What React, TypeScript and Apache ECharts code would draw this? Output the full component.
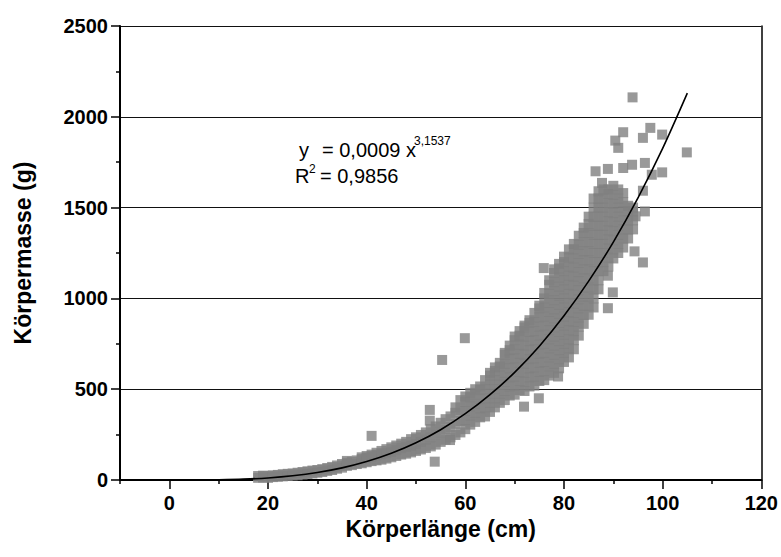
import React, { useEffect, useRef } from "react";
import * as echarts from "echarts";

const FONT = "'Liberation Sans', Arial, Helvetica, sans-serif";

const xTickLabels = [0, 20, 40, 60, 80, 100, 120];
const xMinorTicks = [-10, 10, 30, 50, 70, 90, 110];

// Körperlänge (cm) -> Körpermasse (g), small fish (tight band)
const smallFish: [number, number[]][] = [
  [18, [12, 22]], [19, [14, 24]], [20, [12, 22]], [21, [16, 26]], [22, [18, 28]],
  [23, [20, 32]], [24, [22, 34]], [25, [25, 36]], [26, [26, 40]], [27, [30, 44]],
  [28, [33, 48]], [29, [36, 52]], [30, [40, 55]], [31, [44, 60]], [32, [50, 66]],
  [33, [55, 72]], [34, [62, 80]], [35, [68, 88]], [36, [78, 95, 105]], [37, [82, 100]],
  [38, [88, 108]], [39, [92, 115, 125]], [40, [98, 120, 132]], [41, [104, 128, 140]],
  [42, [108, 135, 150]], [43, [112, 142, 160]], [44, [118, 148, 170]], [45, [125, 155, 180]],
  [46, [132, 165, 190]], [47, [140, 175, 200]], [48, [145, 182, 210]], [49, [152, 190, 225]],
  [50, [160, 198, 235]], [51, [168, 210, 248]], [52, [176, 222, 262]], [53, [185, 235, 280]],
  [54, [195, 248, 295]], [55, [210, 262, 315]], [56, [222, 278, 335]], [57, [235, 292, 350]],
  [58, [248, 310, 370, 400]], [59, [262, 325, 385, 440]],
];

// dense cloud of larger fish
const largeFish: [number, number[]][] = [
  [60, [280, 330, 380, 430, 460]],
  [61, [305, 355, 405, 455, 480]],
  [62, [320, 370, 420, 470, 500]],
  [63, [345, 395, 445, 495, 515]],
  [64, [350, 400, 450, 500, 550]],
  [65, [375, 425, 475, 525, 575, 590]],
  [66, [400, 450, 500, 550, 600, 620]],
  [67, [425, 475, 525, 575, 625, 645]],
  [68, [440, 490, 540, 590, 640, 690, 700]],
  [69, [465, 515, 565, 615, 665, 715, 740]],
  [70, [470, 520, 570, 620, 670, 720, 770, 790]],
  [71, [495, 545, 595, 645, 695, 745, 795, 820]],
  [72, [490, 540, 590, 640, 690, 740, 790, 840, 850]],
  [73, [515, 565, 615, 665, 715, 765, 815, 865, 880]],
  [74, [520, 570, 620, 670, 720, 770, 820, 870, 920]],
  [75, [545, 595, 645, 695, 745, 795, 845, 895, 945, 960]],
  [76, [550, 600, 650, 700, 750, 800, 850, 900, 950, 1000, 1030]],
  [77, [575, 625, 675, 725, 775, 825, 875, 925, 975, 1025, 1075, 1100]],
  [78, [590, 640, 690, 740, 790, 840, 890, 940, 990, 1040, 1090, 1140, 1160]],
  [79, [615, 665, 715, 765, 815, 865, 915, 965, 1015, 1065, 1115, 1165, 1190]],
  [80, [650, 700, 750, 800, 850, 900, 950, 1000, 1050, 1100, 1150, 1200, 1230]],
  [81, [675, 725, 775, 825, 875, 925, 975, 1025, 1075, 1125, 1175, 1225, 1270]],
  [82, [720, 770, 820, 870, 920, 970, 1020, 1070, 1120, 1170, 1220, 1270, 1300]],
  [83, [795, 845, 895, 945, 995, 1045, 1095, 1145, 1195, 1245, 1295, 1345]],
  [84, [860, 910, 960, 1010, 1060, 1110, 1160, 1210, 1260, 1310, 1360, 1390]],
  [85, [910, 960, 1010, 1060, 1110, 1160, 1210, 1260, 1310, 1360, 1410, 1450]],
  [86, [950, 1000, 1050, 1100, 1150, 1200, 1250, 1300, 1350, 1400, 1450, 1500, 1550]],
  [87, [1050, 1100, 1150, 1200, 1250, 1300, 1350, 1400, 1450, 1500, 1550, 1590]],
  [88, [1150, 1200, 1250, 1300, 1350, 1400, 1450, 1500, 1550, 1600]],
  [89, [1175, 1225, 1275, 1325, 1375, 1425, 1475, 1525, 1575, 1600]],
  [90, [1220, 1270, 1320, 1370, 1420, 1470, 1520, 1570, 1620]],
  [91, [1250, 1300, 1350, 1400, 1450, 1500, 1550, 1600]],
  [92, [1280, 1330, 1380, 1430, 1480, 1530, 1580]],
  [93, [1330, 1380, 1430, 1480, 1510]],
  [94, [1380, 1430, 1480, 1500]],
];

// isolated points read individually
const scatteredFish: [number, number][] = [
  [41, 243], [52.8, 386], [52.8, 327], [53.8, 101], [55.3, 661], [56.9, 220], [59.9, 781],
  [71.9, 404], [74.9, 450], [78.8, 570], [75.9, 1167],
  [88.9, 946], [89.9, 1033], [88.9, 1125], [94.3, 1259], [96.0, 1198],
  [94.5, 1452], [96.4, 1479], [96.0, 1593], [87.7, 1636],
  [86.4, 1700], [88.9, 1713], [92.0, 1718], [93.8, 1736], [96.4, 1746],
  [97.8, 1681], [99.9, 1694], [104.9, 1804],
  [91.0, 1829], [90.4, 1869], [92.0, 1915], [96.0, 1884], [97.5, 1939], [99.9, 1902],
  [93.9, 2107],
];

// fitted power curve y = 0,0009 x^3,1537 as drawn
const fitCurve: [number, number][] = [
  [10, 1.3], [15, 4.6], [20, 11.4], [25, 23.1], [30, 41], [35, 66.6], [40, 101.5],
  [45, 147], [50, 205], [55, 277], [60, 365], [65, 470], [70, 593], [75, 737],
  [80, 904], [85, 1095], [90, 1310], [95, 1554], [100, 1826], [105, 2130],
];

function flatten(cols: [number, number[]][]): [number, number][] {
  const out: [number, number][] = [];
  cols.forEach(([x, ys]) => ys.forEach((y) => out.push([x, y])));
  return out;
}

export default function App() {
  const ref = useRef<HTMLDivElement>(null);
  useEffect(() => {
    document.body.style.margin = "0";
    if (!ref.current) return;
    const chart = echarts.init(ref.current, undefined, { renderer: "svg" });
    const points = [...flatten(smallFish), ...flatten(largeFish), ...scatteredFish];
    const black = "#000";
    const labelStyle = { color: black, fontSize: 20, fontWeight: "bold" as const, fontFamily: FONT };
    const nameStyle = { color: black, fontSize: 23, fontWeight: "bold" as const, fontFamily: FONT };
    chart.setOption({
      animation: false,
      backgroundColor: "#fff",
      grid: { left: 120, right: 19, top: 26, bottom: 77 },
      xAxis: [
        {
          type: "value",
          min: -10,
          max: 120,
          position: "bottom",
          axisLine: { show: true, onZero: false, lineStyle: { color: black, width: 2 } },
          axisTick: { show: true, length: 9, customValues: xTickLabels, lineStyle: { color: black, width: 1.5 } },
          axisLabel: { ...labelStyle, customValues: xTickLabels, margin: 13, formatter: (v: number) => String(v) },
          splitLine: { show: false },
          name: "Körperlänge (cm)",
          nameLocation: "middle",
          nameGap: 27,
          nameTextStyle: nameStyle,
        },
        {
          type: "value",
          min: -10,
          max: 120,
          position: "bottom",
          axisLine: { show: false, onZero: false },
          axisTick: { show: true, length: 4, customValues: xMinorTicks, lineStyle: { color: black, width: 1.5 } },
          axisLabel: { show: false },
          splitLine: { show: false },
        },
      ],
      yAxis: [
        {
          type: "value",
          min: 0,
          max: 2500,
          interval: 500,
          axisLine: { show: true, onZero: false, lineStyle: { color: black, width: 2 } },
          axisTick: { show: true, length: 9, lineStyle: { color: black, width: 1.5 } },
          minorTick: { show: true, splitNumber: 2, length: 4, lineStyle: { color: black, width: 1.5 } },
          splitLine: { show: true, lineStyle: { color: "#111", width: 1 } },
          axisLabel: { ...labelStyle, margin: 12, formatter: (v: number) => String(v) },
          name: "Körpermasse (g)",
          nameLocation: "middle",
          nameGap: 86,
          nameRotate: 90,
          nameTextStyle: nameStyle,
        },
        {
          type: "value",
          min: 0,
          max: 2500,
          position: "right",
          axisLine: { show: true, onZero: false, lineStyle: { color: black, width: 1.5 } },
          axisTick: { show: false },
          axisLabel: { show: false },
          splitLine: { show: false },
        },
      ],
      series: [
        {
          type: "scatter",
          symbol: "rect",
          symbolSize: 10,
          itemStyle: { color: "#808080" },
          data: points,
          z: 2,
        },
        {
          type: "line",
          data: fitCurve,
          smooth: 0.3,
          showSymbol: false,
          lineStyle: { color: black, width: 1.6 },
          z: 3,
        },
      ],
      graphic: [
        { type: "text", x: 299, y: 150, style: { text: "y", fontSize: 20, fontFamily: FONT, fill: black, verticalAlign: "middle" } },
        { type: "text", x: 322, y: 150, style: { text: "= 0,0009 x", fontSize: 20, fontFamily: FONT, fill: black, verticalAlign: "middle" } },
        { type: "text", x: 414, y: 141, style: { text: "3,1537", fontSize: 12, fontFamily: FONT, fill: black, verticalAlign: "middle" } },
        { type: "text", x: 295, y: 176, style: { text: "R", fontSize: 20, fontFamily: FONT, fill: black, verticalAlign: "middle" } },
        { type: "text", x: 309, y: 169, style: { text: "2", fontSize: 12, fontFamily: FONT, fill: black, verticalAlign: "middle" } },
        { type: "text", x: 320, y: 176, style: { text: "= 0,9856", fontSize: 20, fontFamily: FONT, fill: black, verticalAlign: "middle" } },
      ],
    });
    return () => chart.dispose();
  }, []);
  return <div ref={ref} style={{ width: 781, height: 557 }} />;
}
